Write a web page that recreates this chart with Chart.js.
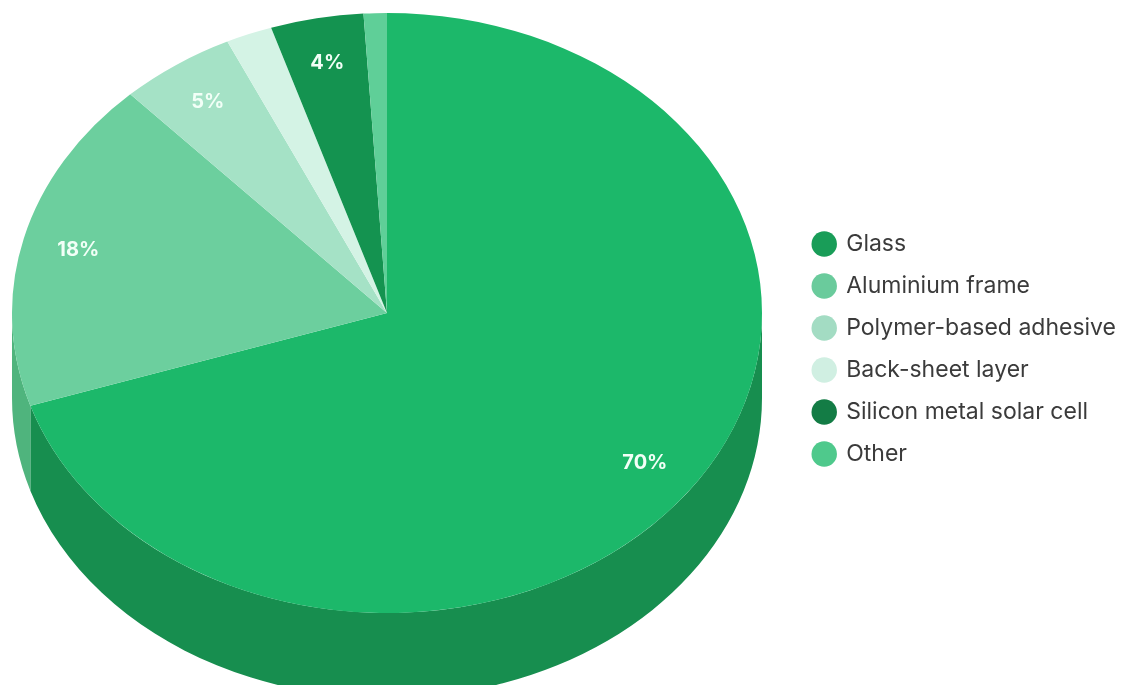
<!DOCTYPE html>
<html>
<head>
<meta charset="utf-8">
<title>Solar panel composition</title>
<script src="https://cdn.jsdelivr.net/npm/chart.js@4.4.1/dist/chart.umd.min.js"></script>
<style>
  html, body { margin: 0; padding: 0; background: #fff; overflow: hidden; }
  #wrap { position: relative; width: 1126px; height: 685px; }
</style>
</head>
<body>
<div id="wrap"><canvas id="pieChart"></canvas></div>
<script>
const LABELS = ['Glass', 'Aluminium frame', 'Polymer-based adhesive', 'Back-sheet layer', 'Silicon metal solar cell', 'Other'];
const SHARES = [70, 18, 5, 2, 4, 1];

// lit top face, shaded rim, and the flat legend swatches
const TOP_COLORS = ['#1cb86a', '#6ccf9e', '#a5e2c6', '#d4f3e5', '#149350', '#5fcf98'];
const SIDE_COLORS = ['#178e4f', '#4fb47d', '#86c9a8', '#b2dcc9', '#117840', '#48ad7c'];
const LEGEND_COLORS = ['#199d58', '#6acb9c', '#a3dcc3', '#d0efe2', '#137c45', '#4fc98c'];

const LABEL_MIN = 4;     // thinner slices stay unlabelled
const LABEL_POS = 0.85;  // label distance from centre, as a share of the radius
const TILT = 0.8;        // vertical squash of the disc
const DEPTH = 85;        // thickness of the disc, px

function discGeometry(chart) {
  const arc = chart.getDatasetMeta(0).data[0];
  const r = arc.outerRadius;
  const area = chart.chartArea;
  // the disc hangs from the top-left corner of the plot area
  return { x0: arc.x, y0: arc.y, r: r, ry: r * TILT, cx: area.left + r, cy: area.top + r * TILT };
}

const disc3d = {
  id: 'disc3d',
  beforeDatasetsDraw(chart) {
    const ctx = chart.ctx;
    const g = discGeometry(chart);
    const arcs = chart.getDatasetMeta(0).data;
    // rim: only the half facing us (0..PI) can be seen
    arcs.forEach((arc, i) => {
      const s = Math.max(arc.startAngle, 0);
      const e = Math.min(arc.endAngle, Math.PI);
      if (e <= s) return;
      ctx.beginPath();
      ctx.ellipse(g.cx, g.cy, g.r, g.ry, 0, s, e);
      ctx.ellipse(g.cx, g.cy + DEPTH, g.r, g.ry, 0, e, s, true);
      ctx.closePath();
      ctx.fillStyle = SIDE_COLORS[i];
      ctx.fill();
    });
    // squash the top face into an ellipse
    ctx.save();
    ctx.translate(g.cx, g.cy);
    ctx.scale(1, TILT);
    ctx.translate(-g.x0, -g.y0);
  },
  afterDatasetsDraw(chart) {
    const ctx = chart.ctx;
    ctx.restore();
    const g = discGeometry(chart);
    const arcs = chart.getDatasetMeta(0).data;
    ctx.save();
    ctx.font = 'bold 20px Inter, sans-serif';
    ctx.fillStyle = '#f2fff7';
    ctx.textAlign = 'center';
    ctx.textBaseline = 'middle';
    arcs.forEach((arc, i) => {
      if (SHARES[i] < LABEL_MIN) return;
      const mid = (arc.startAngle + arc.endAngle) / 2;
      ctx.fillText(SHARES[i] + '%', g.cx + Math.cos(mid) * g.r * LABEL_POS, g.cy + Math.sin(mid) * g.ry * LABEL_POS);
    });
    ctx.restore();
  }
};

Chart.defaults.font.family = 'Inter, sans-serif';

new Chart(document.getElementById('pieChart'), {
  type: 'pie',
  data: {
    labels: LABELS,
    datasets: [{
      data: SHARES,
      backgroundColor: TOP_COLORS,
      borderWidth: 0,
      radius: 375
    }]
  },
  options: {
    responsive: true,
    maintainAspectRatio: false,
    animation: false,
    layout: { padding: { left: 12, top: 13, right: 0, bottom: 0 } },
    plugins: {
      tooltip: { enabled: false },
      legend: {
        position: 'right',
        labels: {
          usePointStyle: true,
          pointStyle: 'circle',
          boxWidth: 21,
          boxHeight: 18,
          padding: 19,
          color: '#3b3b3b',
          font: { size: 23 },
          generateLabels(chart) {
            const items = Chart.overrides.pie.plugins.legend.labels.generateLabels(chart);
            items.forEach((it, i) => {
              it.fillStyle = LEGEND_COLORS[i];
              it.strokeStyle = LEGEND_COLORS[i];
              it.lineWidth = 0;
            });
            return items;
          }
        }
      }
    }
  },
  plugins: [disc3d]
});
</script>
</body>
</html>
